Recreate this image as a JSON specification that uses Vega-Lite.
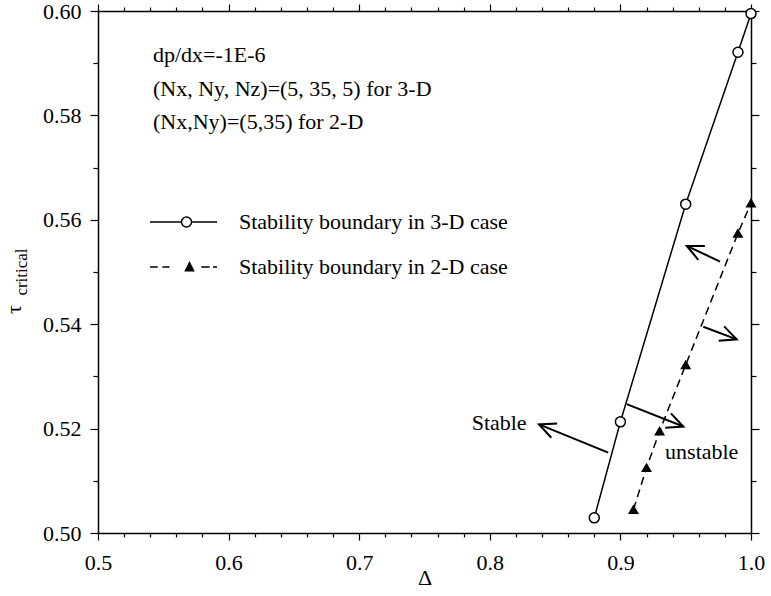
{
  "$schema": "https://vega.github.io/schema/vega-lite/v6.json",
  "width": 653,
  "height": 522,
  "autosize": {"type": "none"},
  "padding": {"left": 98, "top": 11, "right": 20, "bottom": 63},
  "background": "white",
  "config": {
    "view": {"stroke": null},
    "font": "Liberation Serif",
    "axis": {
      "grid": false,
      "domainColor": "black",
      "domainWidth": 1.5,
      "tickColor": "black",
      "tickWidth": 1.2,
      "labelColor": "black",
      "labelFont": "Liberation Serif",
      "labelFontSize": 22,
      "titleFont": "Liberation Serif",
      "titleFontWeight": "normal",
      "titleColor": "black",
      "labelFlush": false,
      "labelOverlap": false,
      "labelBound": false
    }
  },
  "datasets": {
    "boundary": [
      {"delta": 0.88, "tau": 0.5029, "series": "Stability boundary in 3-D case"},
      {"delta": 0.90, "tau": 0.5213, "series": "Stability boundary in 3-D case"},
      {"delta": 0.95, "tau": 0.5630, "series": "Stability boundary in 3-D case"},
      {"delta": 0.99, "tau": 0.5921, "series": "Stability boundary in 3-D case"},
      {"delta": 1.00, "tau": 0.5995, "series": "Stability boundary in 3-D case"},
      {"delta": 0.91, "tau": 0.5045, "series": "Stability boundary in 2-D case"},
      {"delta": 0.92, "tau": 0.5125, "series": "Stability boundary in 2-D case"},
      {"delta": 0.93, "tau": 0.5195, "series": "Stability boundary in 2-D case"},
      {"delta": 0.95, "tau": 0.5322, "series": "Stability boundary in 2-D case"},
      {"delta": 0.99, "tau": 0.5574, "series": "Stability boundary in 2-D case"},
      {"delta": 1.00, "tau": 0.5632, "series": "Stability boundary in 2-D case"}
    ],
    "arrows": [
      {"delta_from": 0.8907, "tau_from": 0.5154, "delta_to": 0.8377, "tau_to": 0.5208},
      {"delta_from": 0.9048, "tau_from": 0.5247, "delta_to": 0.9482, "tau_to": 0.5204},
      {"delta_from": 0.9635, "tau_from": 0.5395, "delta_to": 0.9891, "tau_to": 0.5371},
      {"delta_from": 0.9763, "tau_from": 0.5520, "delta_to": 0.9508, "tau_to": 0.5550}
    ],
    "notes": [
      {"text": "dp/dx=-1E-6", "delta": 0.5421, "tau": 0.5916},
      {"text": "(Nx, Ny, Nz)=(5, 35, 5) for 3-D", "delta": 0.5421, "tau": 0.5851},
      {"text": "(Nx,Ny)=(5,35) for 2-D", "delta": 0.5421, "tau": 0.5787},
      {"text": "Stable", "delta": 0.7861, "tau": 0.5210},
      {"text": "unstable", "delta": 0.9342, "tau": 0.5156}
    ]
  },
  "layer": [
    {
      "data": {"name": "boundary"},
      "mark": {"type": "line", "color": "black", "strokeWidth": 1.5},
      "encoding": {
        "x": {
          "field": "delta", "type": "quantitative",
          "scale": {"domain": [0.5, 1.0], "nice": false, "zero": false},
          "axis": {
            "orient": "bottom",
            "values": [0.5, 0.52, 0.54, 0.56, 0.58, 0.6, 0.62, 0.64, 0.66, 0.68, 0.7, 0.72, 0.74, 0.76, 0.78, 0.8, 0.82, 0.84, 0.86, 0.88, 0.9, 0.92, 0.94, 0.96, 0.98, 1.0],
            "labelExpr": "abs(datum.value * 10 - round(datum.value * 10)) < 0.001 ? format(datum.value, '.1f') : ''",
            "tickSize": {"condition": {"test": "abs(datum.value * 10 - round(datum.value * 10)) < 0.001", "value": 7}, "value": 4},
            "labelPadding": 12,
            "title": "Δ",
            "titleFontSize": 22,
            "titleY": 44,
            "titleBaseline": "middle"
          }
        },
        "y": {
          "field": "tau", "type": "quantitative",
          "scale": {"domain": [0.5, 0.6], "nice": false, "zero": false},
          "axis": {
            "orient": "left",
            "values": [0.5, 0.51, 0.52, 0.53, 0.54, 0.55, 0.56, 0.57, 0.58, 0.59, 0.6],
            "labelExpr": "round(datum.value * 100) % 2 == 0 ? format(datum.value, '.2f') : ''",
            "tickSize": {"condition": {"test": "round(datum.value * 100) % 2 == 0", "value": 8}, "value": 5},
            "labelPadding": 9,
            "title": "τ",
            "titleFontSize": 22,
            "titleAngle": 270,
            "titleAlign": "center",
            "titleBaseline": "middle",
            "titleX": -85,
            "titleY": 298
          }
        },
        "detail": {"field": "series", "type": "nominal"},
        "strokeDash": {
          "condition": {"test": "datum.series == 'Stability boundary in 2-D case'", "value": [8, 5]},
          "value": [1, 0]
        }
      }
    },
    {
      "data": {"name": "boundary"},
      "mark": {"type": "point", "stroke": "black", "strokeWidth": 1.5, "opacity": 1, "filled": true},
      "encoding": {
        "x": {"field": "delta", "type": "quantitative", "scale": {"domain": [0.5, 1.0], "nice": false, "zero": false}, "axis": null},
        "y": {"field": "tau", "type": "quantitative", "scale": {"domain": [0.5, 0.6], "nice": false, "zero": false}, "axis": null},
        "fill": {
          "condition": {"test": "datum.series == 'Stability boundary in 3-D case'", "value": "white"},
          "value": "black"
        },
        "size": {
          "condition": {"test": "datum.series == 'Stability boundary in 3-D case'", "value": 100},
          "value": 70
        },
        "shape": {
          "condition": {"test": "datum.series == 'Stability boundary in 3-D case'", "value": "circle"},
          "value": "triangle-up"
        }
      }
    },
    {
      "data": {"name": "boundary"},
      "transform": [{"filter": "false"}],
      "mark": {"type": "point", "strokeWidth": 1.5, "opacity": 1, "filled": true},
      "encoding": {
        "x": {"field": "delta", "type": "quantitative", "scale": {"domain": [0.5, 1.0], "nice": false, "zero": false}, "axis": null},
        "y": {"field": "tau", "type": "quantitative", "scale": {"domain": [0.5, 0.6], "nice": false, "zero": false}, "axis": null},
        "fill": {
          "field": "series", "type": "nominal",
          "scale": {"domain": ["Stability boundary in 3-D case", "Stability boundary in 2-D case"], "range": ["white", "black"]}
        },
        "stroke": {
          "field": "series", "type": "nominal",
          "scale": {"domain": ["Stability boundary in 3-D case", "Stability boundary in 2-D case"], "range": ["black", "black"]}
        },
        "shape": {
          "field": "series", "type": "nominal",
          "scale": {
            "domain": ["Stability boundary in 3-D case", "Stability boundary in 2-D case"],
            "range": [
              "M -1 0 L -0.06 0 M 0.24 0 L 1 0 M -0.06 0 A 0.15 0.15 0 1 1 0.24 0 A 0.15 0.15 0 1 1 -0.06 0 Z",
              "M -1 0 L -0.77 0 M -0.63 0 L -0.42 0 M 0.53 0 L 0.78 0 M 0.88 0 L 1 0 M 0.06 0.11 L 0.18 -0.13 L 0.3 0.11 Z"
            ]
          },
          "legend": {
            "orient": "none",
            "legendX": 51,
            "legendY": 200,
            "title": null,
            "padding": 0,
            "symbolSize": 4489,
            "symbolStrokeWidth": 1.5,
            "symbolOpacity": 1,
            "labelFont": "Liberation Serif",
            "labelFontSize": 22,
            "labelColor": "black",
            "labelOffset": 21,
            "labelLimit": 400,
            "clipHeight": 22,
            "rowPadding": 23
          }
        }
      }
    },
    {
      "data": {"name": "arrows"},
      "mark": {"type": "rule", "color": "black", "strokeWidth": 2},
      "encoding": {
        "x": {"field": "delta_from", "type": "quantitative", "scale": {"domain": [0.5, 1.0], "nice": false, "zero": false}, "axis": null},
        "y": {"field": "tau_from", "type": "quantitative", "scale": {"domain": [0.5, 0.6], "nice": false, "zero": false}, "axis": null},
        "x2": {"field": "delta_to"},
        "y2": {"field": "tau_to"}
      }
    },
    {
      "data": {"name": "arrows"},
      "mark": {
        "type": "point",
        "shape": "M -1 -0.47 L 0 0 L -1 0.47",
        "filled": false,
        "stroke": "black",
        "strokeWidth": 2,
        "size": 1075,
        "opacity": 1,
        "angle": {"expr": "atan2(scale('y', datum.tau_to) - scale('y', datum.tau_from), scale('x', datum.delta_to) - scale('x', datum.delta_from)) * 180 / PI"}
      },
      "encoding": {
        "x": {"field": "delta_to", "type": "quantitative", "scale": {"domain": [0.5, 1.0], "nice": false, "zero": false}, "axis": null},
        "y": {"field": "tau_to", "type": "quantitative", "scale": {"domain": [0.5, 0.6], "nice": false, "zero": false}, "axis": null}
      }
    },
    {
      "data": {"name": "notes"},
      "mark": {"type": "text", "align": "left", "baseline": "middle", "font": "Liberation Serif", "fontSize": 22, "color": "black"},
      "encoding": {
        "x": {
          "field": "delta", "type": "quantitative",
          "scale": {"domain": [0.5, 1.0], "nice": false, "zero": false},
          "axis": {
            "orient": "top",
            "values": [0.5, 0.52, 0.54, 0.56, 0.58, 0.6, 0.62, 0.64, 0.66, 0.68, 0.7, 0.72, 0.74, 0.76, 0.78, 0.8, 0.82, 0.84, 0.86, 0.88, 0.9, 0.92, 0.94, 0.96, 0.98, 1.0],
            "labels": false,
            "tickSize": {"condition": {"test": "abs(datum.value * 10 - round(datum.value * 10)) < 0.001", "value": 7}, "value": 4},
            "title": null
          }
        },
        "y": {
          "field": "tau", "type": "quantitative",
          "scale": {"domain": [0.5, 0.6], "nice": false, "zero": false},
          "axis": {
            "orient": "right",
            "values": [0.5, 0.51, 0.52, 0.53, 0.54, 0.55, 0.56, 0.57, 0.58, 0.59, 0.6],
            "labels": false,
            "tickSize": {"condition": {"test": "round(datum.value * 100) % 2 == 0", "value": 8}, "value": 5},
            "title": null
          }
        },
        "text": {"field": "text"}
      }
    },
    {
      "data": {"values": [{}]},
      "mark": {"type": "text", "text": "critical", "angle": 270, "align": "center", "baseline": "middle", "font": "Liberation Serif", "fontSize": 17, "color": "black"},
      "encoding": {
        "x": {"datum": 0.4418, "type": "quantitative", "scale": {"domain": [0.5, 1.0], "nice": false, "zero": false}, "axis": null},
        "y": {"datum": 0.55, "type": "quantitative", "scale": {"domain": [0.5, 0.6], "nice": false, "zero": false}, "axis": null}
      }
    }
  ]
}
